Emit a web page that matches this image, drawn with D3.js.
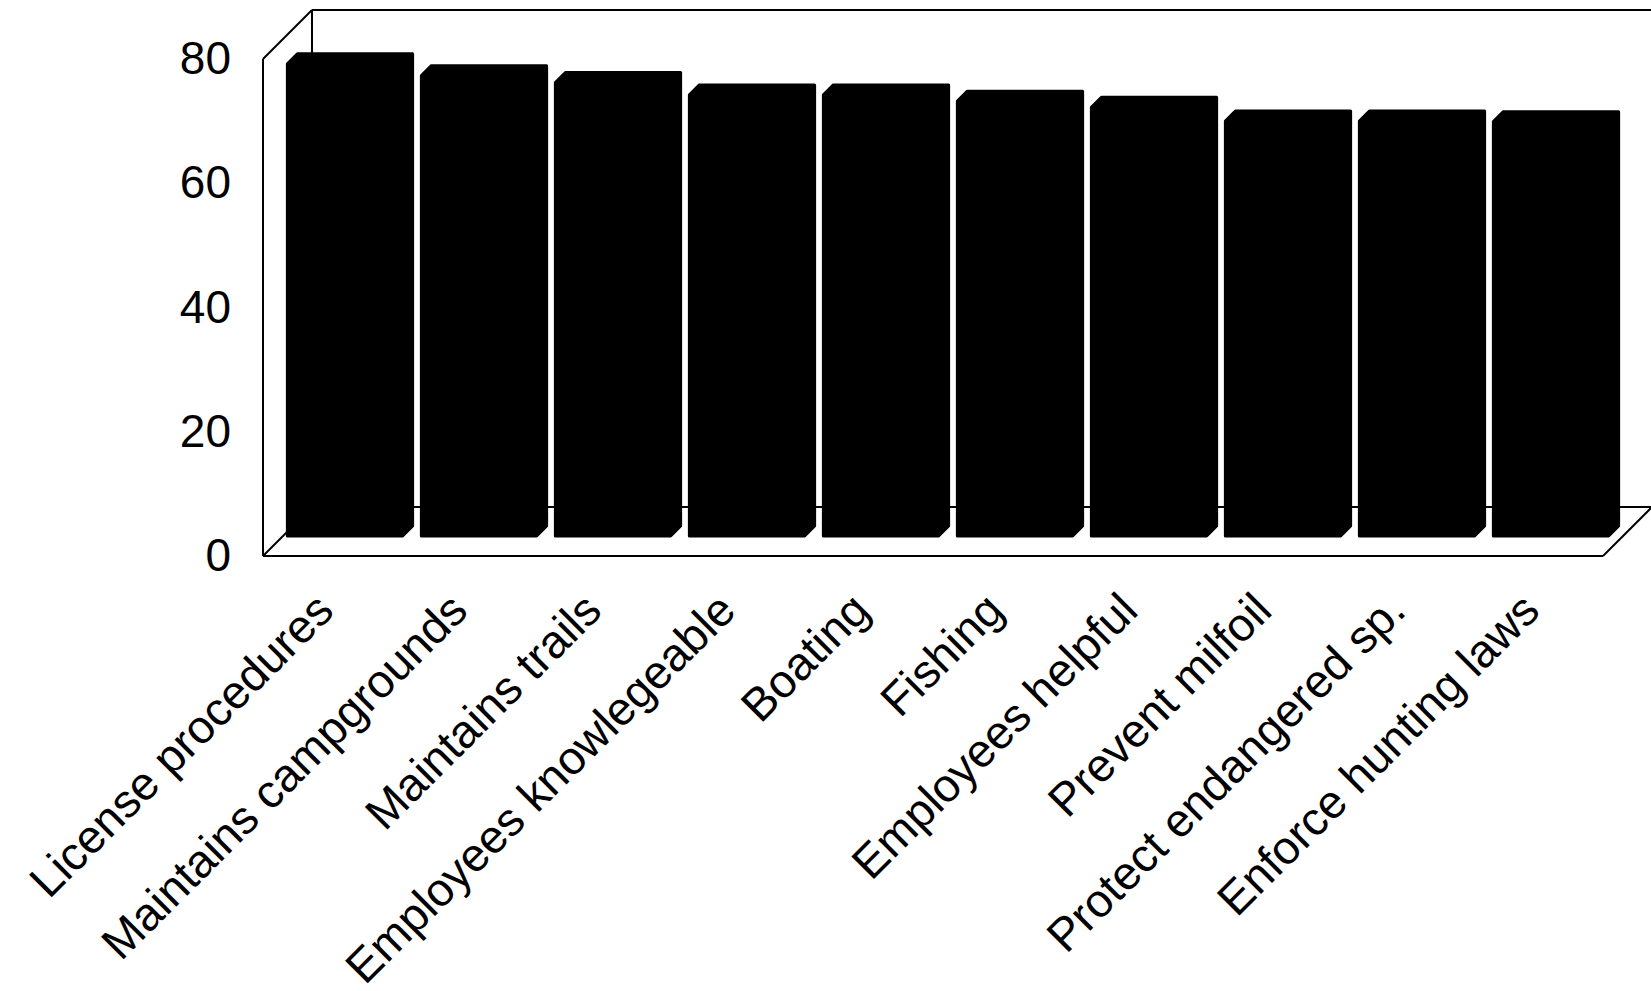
<!DOCTYPE html>
<html>
<head>
<meta charset="utf-8">
<script src="https://cdn.jsdelivr.net/npm/d3@7"></script>
<style>
  html, body { margin: 0; padding: 0; background: #fff; }
  svg { display: block; }
  text { font-family: "Liberation Sans", Arial, sans-serif; fill: #000; }
</style>
</head>
<body>
<svg id="chart" width="1651" height="991"></svg>
<script>
// ---- data ----
const categories = [
  "License procedures",
  "Maintains campgrounds",
  "Maintains trails",
  "Employees knowlegeable",
  "Boating",
  "Fishing",
  "Employees helpful",
  "Prevent milfoil",
  "Protect endangered sp.",
  "Enforce hunting laws"
];
const values = [76, 74.1, 73, 71, 71, 70, 69, 66.8, 66.8, 66.7];
const yTicks = [0, 20, 40, 60, 80];

// ---- layout ----
const frontLeft = 263, frontRight = 1603;
const floorY = 556, topY = 59;
const depth = 49;          // wall depth offset (px, up-right)
const barDepthStart = 20;  // bar front face depth
const barDepth = 10;       // bar thickness
const svg = d3.select("#chart");

const x = d3.scaleBand().domain(categories).range([frontLeft, frontRight]).paddingInner(0).paddingOuter(0);
const y = d3.scaleLinear().domain([0, 80]).range([floorY, topY]);

// ---- frame (3D box walls) ----
const frame = svg.append("g").attr("fill", "none").attr("stroke", "#000").attr("stroke-width", 2);
const bx = frontLeft + depth, bxr = frontRight + depth;
const byTop = y(80) - depth, byFloor = floorY - depth;
const seg = (x1, y1, x2, y2) => frame.append("line").attr("x1", x1).attr("y1", y1).attr("x2", x2).attr("y2", y2);
// back wall
seg(bx, byTop, bxr, byTop);
seg(bx, byTop, bx, byFloor);
// back floor line
seg(bx, byFloor, bxr, byFloor);
// left wall
seg(frontLeft, y(80), frontLeft, floorY);
seg(frontLeft, y(80), bx, byTop);
seg(frontLeft, floorY, bx, byFloor);
// floor front + right
seg(frontLeft, floorY, frontRight, floorY);
seg(frontRight, floorY, bxr, byFloor);

// ---- bars ----
const barW = x.bandwidth() * 0.86;
const barPath = (c, v) => {
  const x0 = x(c) + barDepthStart + (x.bandwidth() - barW) / 2 - barDepth / 2;
  const yb = floorY - barDepthStart;
  const yt = yb - (y(0) - y(v));
  const d = barDepth;
  return `M${x0},${yb} L${x0 + barW},${yb} L${x0 + barW + d},${yb - d} L${x0 + barW + d},${yt - d} L${x0 + d},${yt - d} L${x0},${yt} Z`;
};
svg.append("g").selectAll("path").data(categories).join("path")
  .attr("d", (c, i) => barPath(c, values[i]))
  .attr("fill", "#000")
  .attr("stroke", "#000")
  .attr("stroke-width", 3)
  .attr("stroke-linejoin", "round");

// ---- y axis labels ----
const yAxis = d3.axisLeft(y).tickValues(yTicks).tickSize(0).tickPadding(32).tickFormat(d3.format("d"));
const gy = svg.append("g").attr("transform", `translate(${frontLeft},0)`).call(yAxis);
gy.select(".domain").remove();
gy.selectAll("text").style("font-size", "46px").style("font-family", '"Liberation Sans", Arial, sans-serif').attr("fill", "#000");

// ---- category labels ----
svg.append("g").selectAll("text").data(categories).join("text")
  .attr("transform", c => `translate(${x(c) + x.bandwidth() / 2 + 6},613) rotate(-45)`)
  .attr("text-anchor", "end")
  .style("font-size", "46.5px")
  .text(c => c);
</script>
</body>
</html>
